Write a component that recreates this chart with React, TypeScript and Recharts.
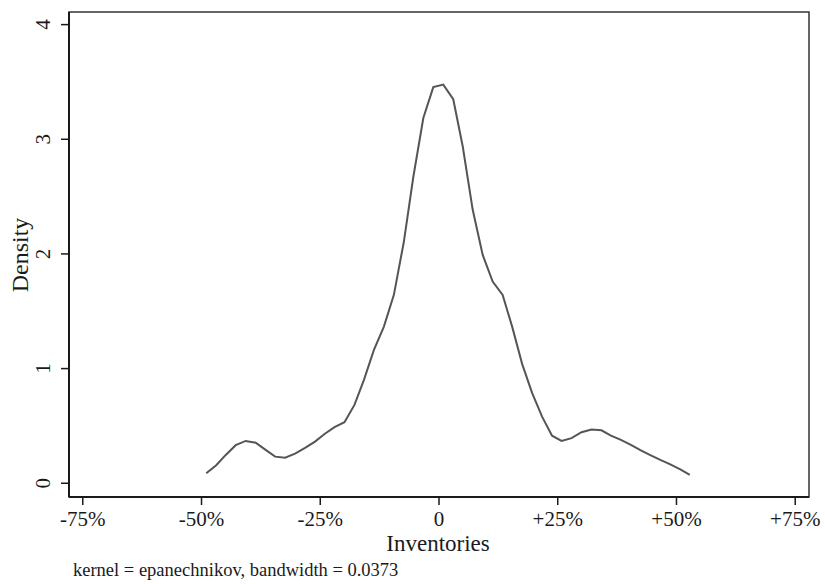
import { LineChart, Line, XAxis, YAxis, ReferenceArea, Label } from 'recharts';

// kdensity evaluation grid (share change) and estimated density
const gridX = [
  -0.49, -0.469, -0.449, -0.428, -0.407, -0.386, -0.365, -0.345, -0.324, -0.303,
  -0.282, -0.261, -0.241, -0.22, -0.199, -0.178, -0.158, -0.137, -0.116, -0.095,
  -0.074, -0.054, -0.033, -0.012, 0.009, 0.03, 0.05, 0.071, 0.092, 0.113,
  0.134, 0.154, 0.175, 0.196, 0.217, 0.238, 0.258, 0.279, 0.3, 0.321,
  0.342, 0.362, 0.383, 0.404, 0.425, 0.446, 0.466, 0.487, 0.508, 0.528,
];
const density = [
  0.087, 0.157, 0.247, 0.332, 0.369, 0.354, 0.291, 0.232, 0.223, 0.258,
  0.308, 0.363, 0.43, 0.489, 0.532, 0.683, 0.901, 1.163, 1.366, 1.643,
  2.106, 2.673, 3.185, 3.455, 3.477, 3.349, 2.937, 2.385, 1.992, 1.759,
  1.643, 1.366, 1.041, 0.788, 0.581, 0.415, 0.369, 0.393, 0.445, 0.468,
  0.462, 0.415, 0.378, 0.334, 0.286, 0.243, 0.203, 0.164, 0.12, 0.072,
];

const xTicks = [-0.75, -0.5, -0.25, 0, 0.25, 0.5, 0.75];
const xTickLabels = ['-75%', '-50%', '-25%', '0', '+25%', '+50%', '+75%'];
const yTicks = [0, 1, 2, 3, 4];

const xTitle = 'Inventories';
const yTitle = 'Density';
const note = 'kernel = epanechnikov, bandwidth = 0.0373';

const data = gridX.map((x, i) => ({ x, density: density[i] }));

const SERIF = '"Liberation Serif", "DejaVu Serif", serif';
const INK = '#1a1a1a';

function XTick(props: any) {
  const { x, y, payload } = props;
  const label = xTickLabels[xTicks.indexOf(payload.value)];
  return (
    <text x={x} y={y + 19} textAnchor="middle" fontFamily={SERIF} fontSize={21} fill={INK}>
      {label}
    </text>
  );
}

function YTick(props: any) {
  const { x, y, payload } = props;
  return (
    <text
      transform={`translate(${x - 9}, ${y}) rotate(-90)`}
      textAnchor="middle"
      fontFamily={SERIF}
      fontSize={21}
      fill={INK}
    >
      {payload.value}
    </text>
  );
}

export default function App() {
  return (
    <div style={{ position: 'absolute', left: 0, top: 0, width: 825, height: 584, background: '#fff' }}>
      <LineChart width={825} height={584} data={data} margin={{ top: 12, right: 16, bottom: 0, left: 0 }}>
        <ReferenceArea
          x1={-0.779}
          x2={0.779}
          y1={-0.12}
          y2={4.11}
          fill="none"
          stroke="#333"
          strokeWidth={1.5}
          ifOverflow="extendDomain"
        />
        <XAxis
          dataKey="x"
          type="number"
          domain={[-0.779, 0.779]}
          ticks={xTicks}
          tick={<XTick />}
          tickSize={8}
          height={87}
          allowDataOverflow
          axisLine={{ stroke: INK, strokeWidth: 2 }}
          tickLine={{ stroke: INK, strokeWidth: 1.5 }}
        >
          <Label
            content={(p: any) => {
              const vb = p.viewBox;
              return (
                <g>
                  <text x={vb.x + vb.width / 2 - 1} y={551} textAnchor="middle" fontFamily={SERIF} fontSize={23} fill={INK}>
                    {xTitle}
                  </text>
                  <text x={73} y={576} textAnchor="start" fontFamily={SERIF} fontSize={18.5} fill={INK}>
                    {note}
                  </text>
                </g>
              );
            }}
          />
        </XAxis>
        <YAxis
          type="number"
          domain={[-0.12, 4.11]}
          ticks={yTicks}
          tick={<YTick />}
          tickSize={8}
          width={69}
          allowDataOverflow
          axisLine={{ stroke: INK, strokeWidth: 2 }}
          tickLine={{ stroke: INK, strokeWidth: 1.5 }}
        >
          <Label
            content={() => (
              <text
                transform="translate(28, 255) rotate(-90)"
                textAnchor="middle"
                fontFamily={SERIF}
                fontSize={24}
                fill={INK}
              >
                {yTitle}
              </text>
            )}
          />
        </YAxis>
        <Line
          type="linear"
          dataKey="density"
          stroke="#555"
          strokeWidth={2}
          dot={false}
          isAnimationActive={false}
        />
      </LineChart>
    </div>
  );
}
